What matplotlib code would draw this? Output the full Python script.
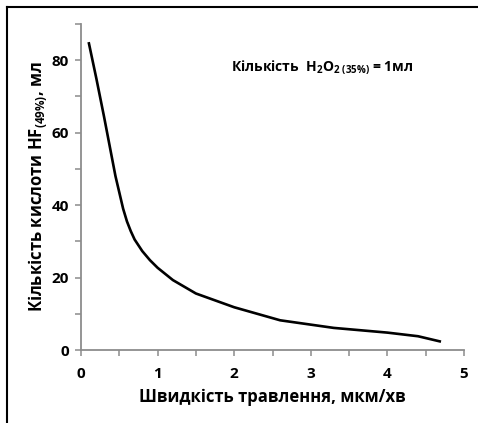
import matplotlib
matplotlib.use("Agg")
import matplotlib.pyplot as plt
from matplotlib.ticker import MultipleLocator
from matplotlib.lines import Line2D

plt.rcParams['font.family'] = ['Open Sans', 'DejaVu Sans']
plt.rcParams['font.weight'] = 'bold'
plt.rcParams['mathtext.fontset'] = 'custom'
plt.rcParams['mathtext.rm'] = 'Open Sans:bold'
plt.rcParams['mathtext.bf'] = 'Open Sans:bold'
plt.rcParams['mathtext.it'] = 'Open Sans:bold'

# data
etch_rate = [0.1, 0.2, 0.3, 0.4, 0.45, 0.5, 0.55, 0.6, 0.65, 0.7, 0.8, 0.9, 1.0,
             1.2, 1.5, 2.0, 2.6, 3.3, 4.0, 4.4, 4.7]
hf_amount = [85, 75, 64.5, 53.5, 48, 43.5, 39, 35.5, 32.8, 30.5, 27.3, 24.8, 22.7,
             19.3, 15.6, 11.8, 8.2, 6.1, 4.8, 3.8, 2.3]
x_ticks = [0, 1, 2, 3, 4, 5]
y_ticks = [0, 20, 40, 60, 80]

fig = plt.figure(figsize=(4.78, 4.23), dpi=100)
ax = fig.add_axes([81/478, 1-350/423, (464-81)/478, (350-24)/423])

ax.plot(etch_rate, hf_amount, color='black', lw=1.9, solid_capstyle='butt',
        solid_joinstyle='round')

ax.set_xlim(0, 5)
ax.set_ylim(0, 90)
ax.set_xticks(x_ticks)
ax.set_yticks(y_ticks)
ax.xaxis.set_minor_locator(MultipleLocator(0.5))
ax.yaxis.set_minor_locator(MultipleLocator(10))

gray = '#8c8c8c'
for s in ['top', 'right']:
    ax.spines[s].set_visible(False)
for s in ['left', 'bottom']:
    ax.spines[s].set_color(gray)
    ax.spines[s].set_linewidth(1.3)
ax.tick_params(which='both', direction='out', color=gray, width=1.1, length=4.5)
ax.tick_params(which='major', labelsize=11, pad=4)
for lab in ax.get_xticklabels() + ax.get_yticklabels():
    lab.set_fontweight('bold')
ax.tick_params(axis='x', pad=8)

ax.set_xlabel('Швидкість травлення, мкм/хв', fontsize=12, fontweight='bold', labelpad=5)
ax.set_ylabel(r'Кількість кислоти HF$_{\mathbf{(49\%)}}$, мл', fontsize=12, fontweight='bold', labelpad=2)

ax.text(3.15, 78.0, r'Кількість  H$_\mathbf{2}$O$_\mathbf{2\ (35\%)}$ = 1мл', fontsize=10,
        fontweight='bold', ha='center', va='center')

# frame lines of the original screenshot (top and left)
fig.add_artist(Line2D([7/478, 1], [1-7/423, 1-7/423], transform=fig.transFigure, color='black', lw=1.5))
fig.add_artist(Line2D([7/478, 7/478], [0, 1-7/423], transform=fig.transFigure, color='black', lw=1.5))

fig.savefig('out.png', dpi=100)
